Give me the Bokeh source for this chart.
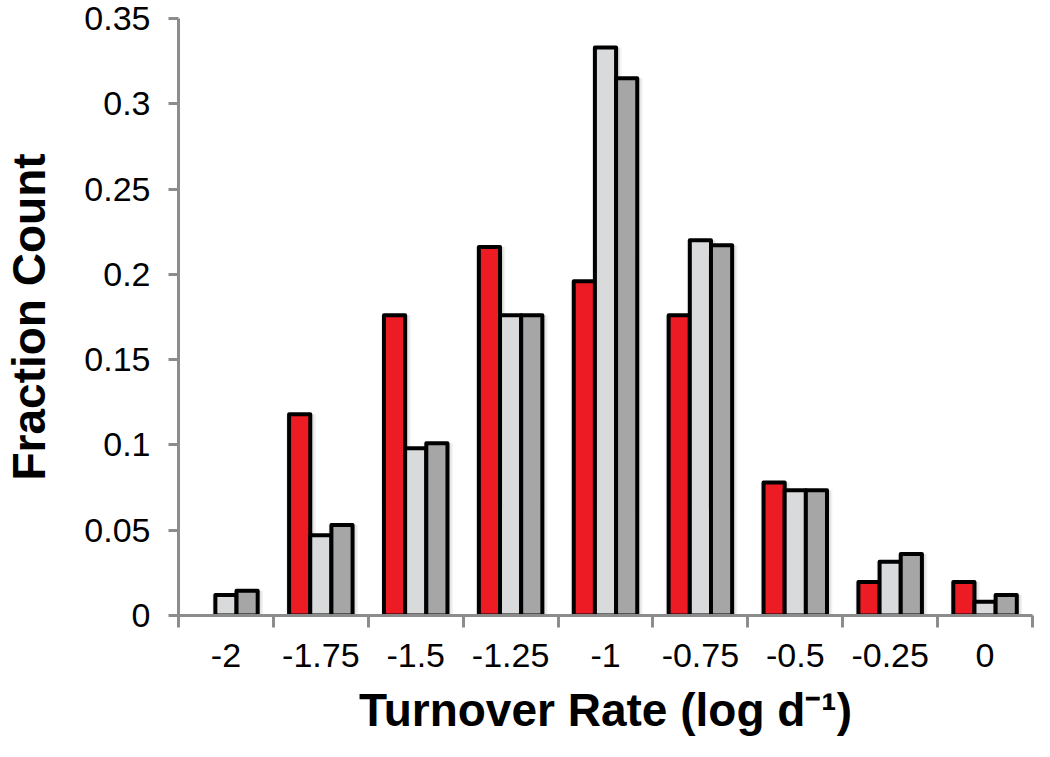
from bokeh.plotting import figure
from bokeh.models import ColumnDataSource, FixedTicker, Range1d
from bokeh.transform import dodge
from bokeh.embed import file_html
from bokeh.resources import INLINE

categories = ["-2", "-1.75", "-1.5", "-1.25", "-1", "-0.75", "-0.5", "-0.25", "0"]
red_values = [0.0, 0.118, 0.176, 0.216, 0.196, 0.176, 0.078, 0.0196, 0.0196]
light_values = [0.012, 0.047, 0.098, 0.176, 0.333, 0.220, 0.0735, 0.0315, 0.008]
dark_values = [0.0145, 0.053, 0.101, 0.176, 0.315, 0.217, 0.0735, 0.036, 0.012]
y_ticks = [0, 0.05, 0.1, 0.15, 0.2, 0.25, 0.3, 0.35]
y_tick_labels = ["0", "0.05", "0.1", "0.15", "0.2", "0.25", "0.3", "0.35"]
x_title = "Turnover Rate (log d\u207b\u00b9)"
y_title = "Fraction Count"

idx = list(range(len(categories)))
src = ColumnDataSource(dict(
    idx=idx, red=red_values, light=light_values, dark=dark_values,
    red_a=[1.0 if v > 0 else 0.0 for v in red_values],
    light_a=[1.0 if v > 0 else 0.0 for v in light_values],
    dark_a=[1.0 if v > 0 else 0.0 for v in dark_values],
))

FONT = "Liberation Sans"
AXIS_GRAY = "#8c8c8c"

p = figure(width=1034, height=741, output_backend="svg", toolbar_location=None,
           x_range=Range1d(-0.5, len(categories) - 0.5), y_range=Range1d(0, 0.35),
           min_border_left=168, min_border_right=2, min_border_top=18, min_border_bottom=126)
p.outline_line_color = None
p.xgrid.visible = False
p.ygrid.visible = False

bw = 0.223
series = [("red", "#ed1c24", -bw), ("light", "#d9dadb", 0.0), ("dark", "#a6a6a6", bw)]

# soft drop shadows
for k in (3, 2, 1):
    for name, color, off in series:
        p.vbar(x=dodge("idx", off + 0.012, range=p.x_range), top=name, source=src,
               width=bw + 0.03 * k, fill_color="black", fill_alpha=0.05,
               line_color=None)

for name, color, off in series:
    p.vbar(x=dodge("idx", off, range=p.x_range), top=name, source=src, width=bw,
           fill_color=color, line_alpha=name + "_a",
           line_color="black", line_width=4, line_join="round")

# x axis
xa = p.xaxis[0]
xa.ticker = FixedTicker(ticks=idx, minor_ticks=[i - 0.5 for i in range(len(categories) + 1)])
xa.major_label_overrides = {i: c for i, c in zip(idx, categories)}
xa.major_tick_line_color = None
xa.major_tick_out = 0
xa.minor_tick_out = 12
xa.minor_tick_in = 0
xa.minor_tick_line_color = AXIS_GRAY
xa.minor_tick_line_width = 3
xa.axis_line_color = AXIS_GRAY
xa.axis_line_width = 3
xa.major_label_text_font = FONT
xa.major_label_text_font_size = "34px"
xa.major_label_text_color = "black"
xa.major_label_standoff = 16
xa.axis_label = x_title
xa.axis_label_text_font = FONT
xa.axis_label_text_font_size = "46px"
xa.axis_label_text_font_style = "bold"
xa.axis_label_text_color = "black"
xa.axis_label_standoff = 14

# y axis
ya = p.yaxis[0]
ya.ticker = FixedTicker(ticks=y_ticks)
ya.major_label_overrides = {t: l for t, l in zip(y_ticks, y_tick_labels)}
ya.major_tick_out = 10
ya.major_tick_in = 0
ya.major_tick_line_color = AXIS_GRAY
ya.major_tick_line_width = 3
ya.minor_tick_line_color = None
ya.axis_line_color = AXIS_GRAY
ya.axis_line_width = 3
ya.major_label_text_font = FONT
ya.major_label_text_font_size = "34px"
ya.major_label_text_color = "black"
ya.major_label_standoff = 18
ya.axis_label = y_title
ya.axis_label_text_font = FONT
ya.axis_label_text_font_size = "46px"
ya.axis_label_text_font_style = "bold"
ya.axis_label_text_color = "black"
ya.axis_label_standoff = 26

open("out.html", "w").write(file_html(p, INLINE))
